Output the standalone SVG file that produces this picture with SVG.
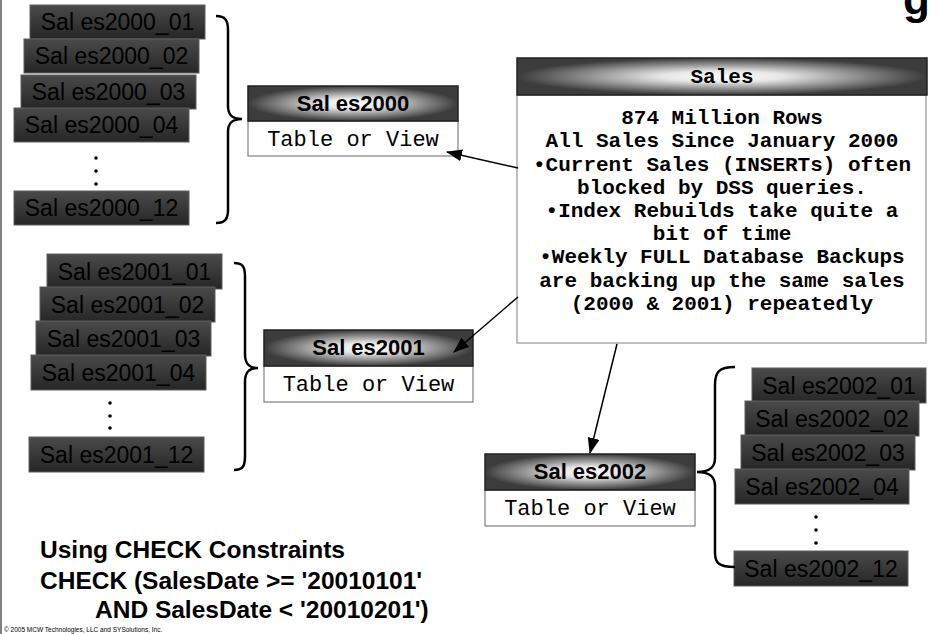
<svg xmlns="http://www.w3.org/2000/svg" width="942" height="634" viewBox="0 0 942 634">
<defs>
<linearGradient id="boxGrad" x1="0" y1="0" x2="0" y2="1"><stop offset="0" stop-color="#4a4a4a"/><stop offset="1" stop-color="#262626"/></linearGradient>
<radialGradient id="hdrGrad" cx="0.5" cy="0.5" r="0.5"><stop offset="0" stop-color="#ffffff"/><stop offset="0.3" stop-color="#e6e6e6"/><stop offset="1" stop-color="#3c3c3c"/></radialGradient>
<marker id="arrow" markerWidth="16" markerHeight="12" refX="15" refY="6" orient="auto" markerUnits="userSpaceOnUse"><path d="M0,0 L16,6 L0,12 z" fill="#000"/></marker>
</defs>
<style>
.part rect{fill:url(#boxGrad);stroke:#5e5e5e;stroke-width:1}
.part text{font-family:"Liberation Sans",Arial,sans-serif;font-size:23px;fill:#000;text-anchor:middle}
.dot{fill:#000}
.hdr{fill:url(#hdrGrad);stroke:#222;stroke-width:1.5}
.body{fill:#fff;stroke:#666;stroke-width:1}
.sbody{fill:#fff;stroke:#aaa;stroke-width:1.5}
.hdrtxt{font-family:"Liberation Sans",Arial,sans-serif;font-weight:bold;font-size:22px;text-anchor:middle;fill:#000}
.bodytxt{font-family:"Liberation Mono","Courier New",monospace;font-size:22px;text-anchor:middle;fill:#000}
.stxt{font-family:"Liberation Mono","Courier New",monospace;font-weight:bold;font-size:21px;text-anchor:middle;fill:#000}
.conn{fill:none;stroke:#000;stroke-width:1.5}
.brace{fill:none;stroke:#000;stroke-width:2.5}
.big{font-family:"Liberation Sans",Arial,sans-serif;font-weight:bold;fill:#000}
</style>
<rect x="0" y="0" width="2" height="634" fill="#808080"/>
<text x="903" y="14" class="big" font-size="44">g</text>

<g id="stack2000">
<g class="part" id="s2000_01"><rect x="30" y="5" width="175" height="34"/><text x="117.5" y="30">Sal es2000_01</text></g>
<g class="part" id="s2000_02"><rect x="24" y="39" width="175" height="34"/><text x="111.5" y="64">Sal es2000_02</text></g>
<g class="part" id="s2000_03"><rect x="21" y="75" width="175" height="34"/><text x="108.5" y="100">Sal es2000_03</text></g>
<g class="part" id="s2000_04"><rect x="14" y="108" width="175" height="34"/><text x="101.5" y="133">Sal es2000_04</text></g>
<circle class="dot" cx="96" cy="158" r="1.8"/><circle class="dot" cx="96" cy="171" r="1.8"/><circle class="dot" cx="96" cy="184" r="1.8"/>
<g class="part" id="s2000_12"><rect x="14" y="191" width="175" height="34"/><text x="101.5" y="216">Sal es2000_12</text></g>
</g>

<g id="stack2001">
<g class="part" id="s2001_01"><rect x="47" y="254" width="175" height="35"/><text x="134.5" y="280">Sal es2001_01</text></g>
<g class="part" id="s2001_02"><rect x="40" y="287" width="175" height="35"/><text x="127.5" y="313">Sal es2001_02</text></g>
<g class="part" id="s2001_03"><rect x="36" y="321" width="175" height="35"/><text x="123.5" y="347">Sal es2001_03</text></g>
<g class="part" id="s2001_04"><rect x="31" y="355" width="175" height="35"/><text x="118.5" y="381">Sal es2001_04</text></g>
<circle class="dot" cx="110" cy="403" r="1.8"/><circle class="dot" cx="110" cy="416" r="1.8"/><circle class="dot" cx="110" cy="428" r="1.8"/>
<g class="part" id="s2001_12"><rect x="29" y="437" width="175" height="35"/><text x="116.5" y="463">Sal es2001_12</text></g>
</g>

<g id="stack2002">
<g class="part" id="s2002_01"><rect x="752" y="368" width="174" height="35"/><text x="839" y="394">Sal es2002_01</text></g>
<g class="part" id="s2002_02"><rect x="745" y="401" width="174" height="35"/><text x="832" y="427">Sal es2002_02</text></g>
<g class="part" id="s2002_03"><rect x="741" y="435" width="174" height="35"/><text x="828" y="461">Sal es2002_03</text></g>
<g class="part" id="s2002_04"><rect x="735" y="469" width="174" height="35"/><text x="822" y="495">Sal es2002_04</text></g>
<circle class="dot" cx="816" cy="517" r="1.8"/><circle class="dot" cx="816" cy="530" r="1.8"/><circle class="dot" cx="816" cy="543" r="1.8"/>
<g class="part" id="s2002_12"><rect x="734" y="551" width="174" height="35"/><text x="821" y="577">Sal es2002_12</text></g>
</g>

<g id="sales2000">
<rect class="body" x="248" y="121" width="210" height="35"/>
<rect class="hdr" x="248" y="86" width="210" height="35"/>
<text class="hdrtxt" x="353" y="111">Sal es2000</text>
<text class="bodytxt" x="353" y="146">Table or View</text>
</g>

<g id="sales2001">
<rect class="body" x="264" y="366" width="209" height="36"/>
<rect class="hdr" x="264" y="330" width="209" height="36"/>
<text class="hdrtxt" x="368.5" y="355">Sal es2001</text>
<text class="bodytxt" x="368.5" y="391">Table or View</text>
</g>

<g id="sales2002">
<rect class="body" x="485" y="490" width="210" height="36"/>
<rect class="hdr" x="485" y="454" width="210" height="36"/>
<text class="hdrtxt" x="590" y="479">Sal es2002</text>
<text class="bodytxt" x="590" y="515">Table or View</text>
</g>

<g id="sales">
<rect class="sbody" x="517" y="95" width="409" height="248"/>
<rect class="hdr" x="517" y="58" width="410" height="37"/>
<text class="stxt" x="722" y="83">Sales</text>
<text class="stxt" x="722" y="124">874 Million Rows</text>
<text class="stxt" x="722" y="147">All Sales Since January 2000</text>
<text class="stxt" x="722" y="171">•Current Sales (INSERTs) often</text>
<text class="stxt" x="722" y="194">blocked by DSS queries.</text>
<text class="stxt" x="722" y="217">•Index Rebuilds take quite a</text>
<text class="stxt" x="722" y="240">bit of time</text>
<text class="stxt" x="722" y="263">•Weekly FULL Database Backups</text>
<text class="stxt" x="722" y="287">are backing up the same sales</text>
<text class="stxt" x="722" y="310">(2000 &amp; 2001) repeatedly</text>
</g>

<g id="connectors">
<path class="brace" d="M216,16 C225,16 228,20 228,30 L228,106 C228,115 232,119 242,119 C232,119 228,123 228,132 L228,210 C228,219 225,223 216,223"/>
<path class="brace" d="M234,263 C243,263 245,267 245,277 L245,354 C245,364 249,368 258,368 C249,368 245,372 245,382 L245,456 C245,466 243,470 234,470"/>
<path class="brace" d="M735,367 C719,367 715,372 715,385 L715,458 C715,468 709,472 697,472 C709,472 715,476 715,486 L715,553 C715,563 719,567 735,567"/>
<line class="conn" x1="518" y1="168" x2="447" y2="152" marker-end="url(#arrow)"/>
<line class="conn" x1="518" y1="297" x2="454" y2="352" marker-end="url(#arrow)"/>
<line class="conn" x1="617" y1="344" x2="590" y2="453" marker-end="url(#arrow)"/>
</g>

<g id="caption">
<text class="big" x="40" y="558" font-size="24.5">Using CHECK Constraints</text>
<text class="big" x="40" y="589" font-size="24.5">CHECK (SalesDate &gt;= '20010101'</text>
<text class="big" x="95" y="618" font-size="24.5">AND SalesDate &lt; '20010201')</text>
<text x="4" y="632" font-family="Liberation Sans, Arial, sans-serif" font-size="6.5" fill="#000">© 2005 MCW Technologies, LLC and SYSolutions, Inc.</text>
</g>
</svg>
